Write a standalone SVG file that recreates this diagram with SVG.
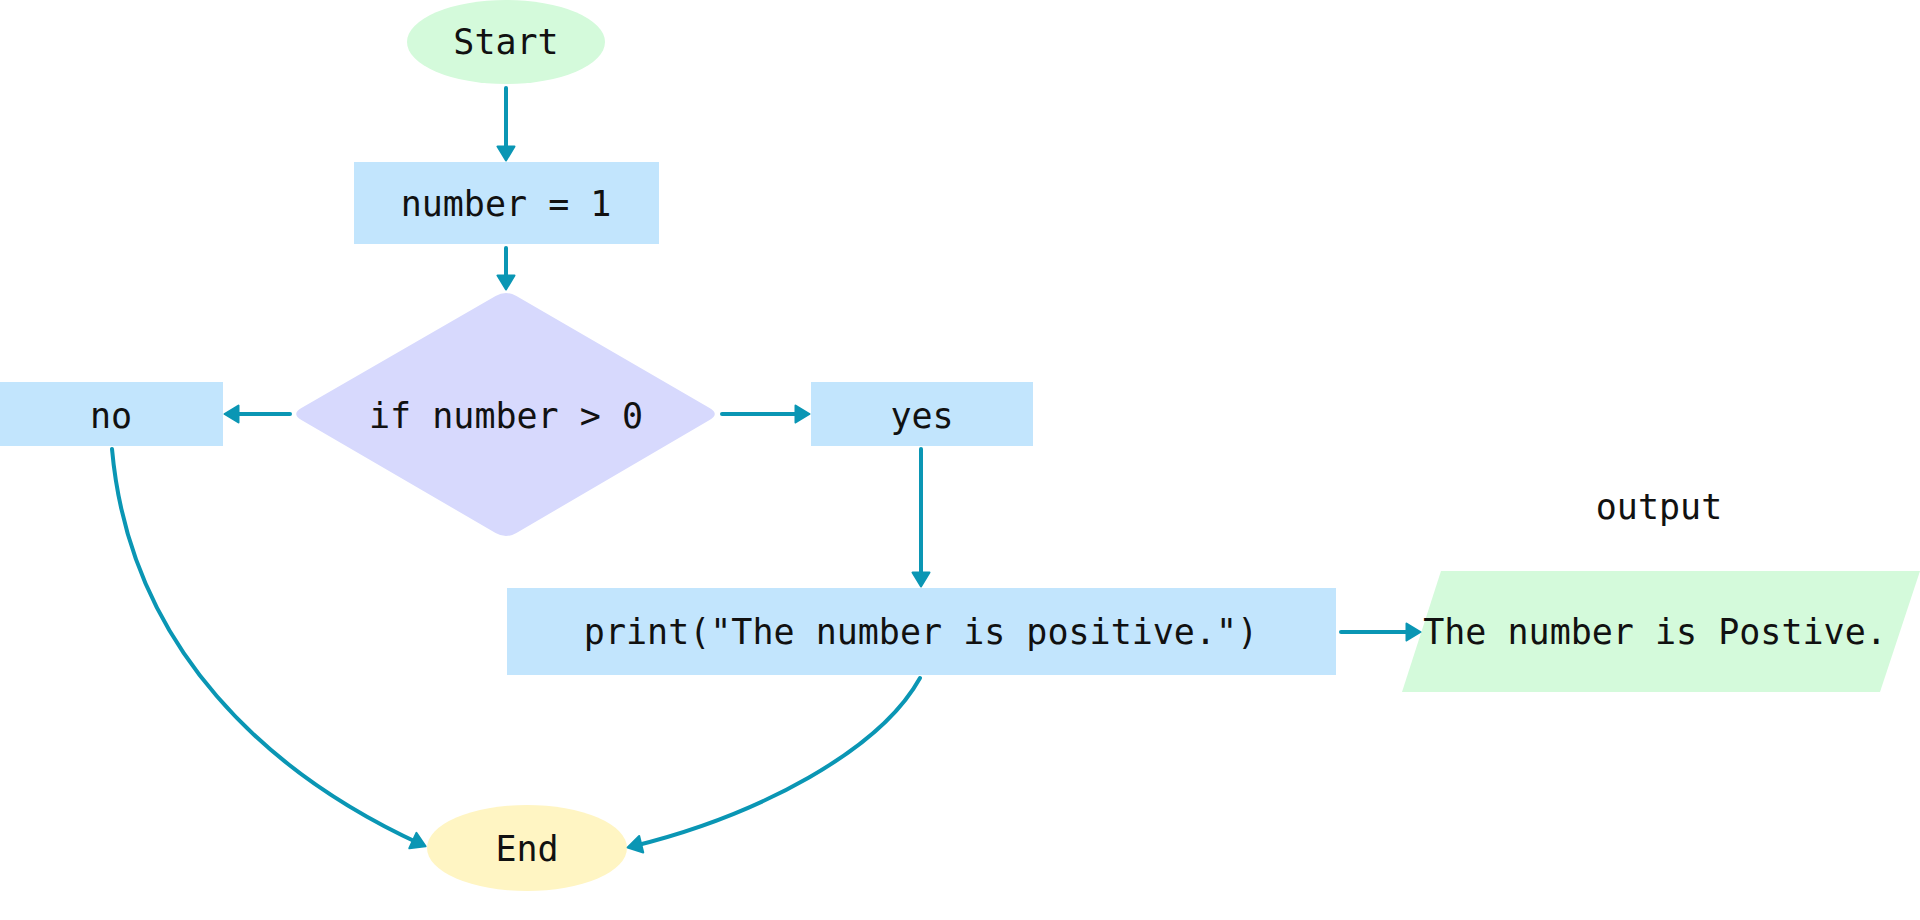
<svg xmlns="http://www.w3.org/2000/svg" width="1920" height="920" viewBox="0 0 1920 920">
<style>
  text { font-family: "DejaVu Sans Mono", "Liberation Mono", monospace; font-size: 35px; fill: #111; text-anchor: middle; }
  .conn { fill: none; stroke: #0a96b4; stroke-width: 4; stroke-linecap: round; }
  .proc { fill: #c2e5fd; }
</style>
<defs>
  <marker id="arrow" markerUnits="userSpaceOnUse" viewBox="0 0 18 20" markerWidth="18" markerHeight="20" refX="11" refY="10" orient="auto">
    <path d="M1.5,1.5 L15.5,10 L1.5,18.5 Z" fill="#0a96b4" stroke="#0a96b4" stroke-width="2" stroke-linejoin="round"/>
  </marker>
</defs>
<rect width="1920" height="920" fill="#ffffff"/>
<g id="start">
  <ellipse cx="506" cy="42" rx="99" ry="42" fill="#d4fadb"/>
  <text x="506" y="54">Start</text>
</g>
<g id="assign">
  <rect class="proc" x="354" y="162" width="305" height="82"/>
  <text x="506" y="216">number = 1</text>
</g>
<g id="decision">
  <path d="M495.6,296 Q506,290 516.4,296 L709.6,408 Q720,414 709.6,420 L516.4,533 Q506,539 495.6,533 L301.4,420 Q291,414 301.4,408 Z" fill="#d7d9fd"/>
  <text x="506" y="428">if number &gt; 0</text>
</g>
<g id="no">
  <rect class="proc" x="0" y="382" width="223" height="64"/>
  <text x="111" y="428">no</text>
</g>
<g id="yes">
  <rect class="proc" x="811" y="382" width="222" height="64"/>
  <text x="922" y="428">yes</text>
</g>
<g id="print">
  <rect class="proc" x="507" y="588" width="829" height="87"/>
  <text x="921" y="644">print("The number is positive.")</text>
</g>
<g id="output">
  <text x="1659" y="519">output</text>
  <polygon points="1441,571 1920,571 1880,692 1402,692" fill="#d4fadb"/>
  <text x="1655" y="644">The number is Postive.</text>
</g>
<g id="end">
  <ellipse cx="527" cy="848" rx="100" ry="43" fill="#fff5c3"/>
  <text x="527" y="861">End</text>
</g>
<g id="connectors">
  <path class="conn" d="M506,88 L506,156" marker-end="url(#arrow)"/>
  <path class="conn" d="M506,248 L506,285" marker-end="url(#arrow)"/>
  <path class="conn" d="M290,414 L229,414" marker-end="url(#arrow)"/>
  <path class="conn" d="M722,414 L805,414" marker-end="url(#arrow)"/>
  <path class="conn" d="M921,449 L921,582" marker-end="url(#arrow)"/>
  <path class="conn" d="M1341,632 L1416,632" marker-end="url(#arrow)"/>
  <path class="conn" d="M112,449 C130,650 270,775 421.5,844.5" marker-end="url(#arrow)"/>
  <path class="conn" d="M920,678 C880,750 760,815 632,846.5" marker-end="url(#arrow)"/>
</g>
</svg>
